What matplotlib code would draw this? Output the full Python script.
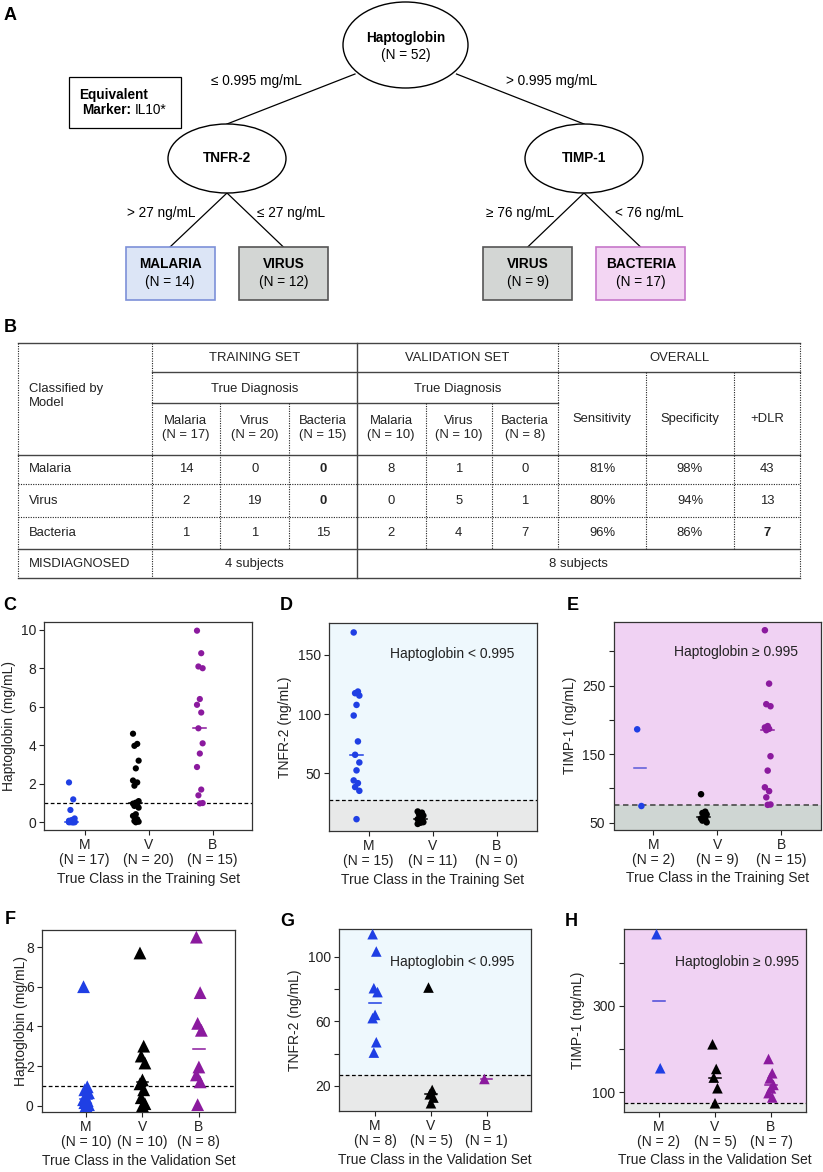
import numpy as np
import matplotlib
matplotlib.use("Agg")
import matplotlib.pyplot as plt
from matplotlib.patches import Ellipse, Rectangle

plt.rcParams['font.family'] = ['Liberation Sans', 'DejaVu Sans']

# ---------------- data ----------------
# Panel A tree
root_name, root_n = "Haptoglobin", "(N = 52)"
left_node, right_node = "TNFR-2", "TIMP-1"
split_labels = ["\u2264 0.995 mg/mL", "> 0.995 mg/mL",
                "> 27 ng/mL", "\u2264 27 ng/mL", "\u2265 76 ng/mL", "< 76 ng/mL"]
leaf_names = ["MALARIA", "VIRUS", "VIRUS", "BACTERIA"]
leaf_counts = ["(N = 14)", "(N = 12)", "(N = 9)", "(N = 17)"]

# Panel B table
group_headers = ["TRAINING SET", "VALIDATION SET", "OVERALL"]
col_headers = ["Malaria\n(N = 17)", "Virus\n(N = 20)", "Bacteria\n(N = 15)",
               "Malaria\n(N = 10)", "Virus\n(N = 10)", "Bacteria\n(N = 8)",
               "Sensitivity", "Specificity", "+DLR"]
row_labels = ["Malaria", "Virus", "Bacteria"]
training = [[14, 0, 0], [2, 19, 0], [1, 1, 15]]
validation = [[8, 1, 0], [0, 5, 1], [2, 4, 7]]
sensitivity = ["81%", "80%", "96%"]
specificity = ["98%", "94%", "86%"]
dlr = ["43", "13", "7"]
misdiag = ["4 subjects", "8 subjects"]

classes = ["M", "V", "B"]

# Panel C: haptoglobin, training
C_M = [2.07, 1.19, 0.64, 0.2, 0.12, 0.08, 0.05, 0.04, 0.03, 0.02, 0.02, 0.01, 0.01, 0.0, 0.0, 0.0, 0.0]
C_V = [4.6, 4.07, 3.97, 3.2, 2.8, 2.17, 2.07, 1.9, 1.1, 1.02, 0.97, 0.9, 0.85, 0.76, 0.42, 0.33, 0.16, 0.07, 0.03, 0.0]
C_B = [9.95, 8.78, 8.09, 8.0, 6.4, 6.1, 5.7, 4.88, 4.1, 3.57, 2.87, 1.7, 1.4, 1.0, 0.98]
C_N = [17, 20, 15]
# Panel D: TNFR-2, training
D_M = [169, 119, 117.6, 115.6, 107.7, 98.7, 76.8, 65.5, 59, 52.3, 43.8, 41.5, 38.2, 35, 11]
D_V = [17.5, 16.5, 15, 14, 13, 11, 10.5, 9.5, 8.5, 8, 7]
D_B = []
D_N = [15, 11, 0]
# Panel E: TIMP-1, training
E_M = [186.3, 74.3]
E_V = [91.5, 66, 64, 62, 58, 56, 55, 53, 50.5]
E_B = [331, 253, 223, 220, 191, 189, 187, 185, 147, 126, 101.6, 96, 87, 76.5, 76]
E_N = [2, 9, 15]
# Panel F: haptoglobin, validation
F_M = [6.0, 0.95, 0.8, 0.65, 0.4, 0.3, 0.25, 0.15, 0.05, 0.0]
F_V = [7.7, 3.0, 2.5, 2.15, 1.3, 1.1, 0.8, 0.4, 0.1, 0.0]
F_B = [8.5, 5.7, 4.15, 3.8, 1.95, 1.55, 1.2, 0.05]
F_N = [10, 10, 8]
# Panel G: TNFR-2, validation
G_M = [113.8, 103.1, 80.4, 78, 63.9, 61.9, 47, 40.6]
G_V = [80.8, 17.5, 14.8, 12.8, 9.3]
G_B = [24.3]
G_N = [8, 5, 1]
# Panel H: TIMP-1, validation
H_M = [466, 155.6]
H_V = [211, 154, 134, 109.3, 74.5]
H_B = [177, 144, 132, 117, 109, 98, 88]
H_N = [2, 5, 7]

hapto_cut, tnfr_cut, timp_cut = 0.995, 27, 76

# ---------------- style ----------------
BLUE, BLACK, PURPLE = "#1f3fe4", "#000000", "#8b1a9e"
W, H = 823, 1172
fig = plt.figure(figsize=(W / 100, H / 100), dpi=100)
ov = fig.add_axes([0, 0, 1, 1])
ov.set_xlim(0, W)
ov.set_ylim(H, 0)
ov.axis('off')

TF = 9.8
# ---------------- Panel A ----------------
def ell(cx, cy, w, h):
    ov.add_patch(Ellipse((cx, cy), w, h, fc='white', ec='black', lw=1.0, zorder=3))

def seg(x0, y0, x1, y1):
    ov.plot([x0, x1], [y0, y1], color='black', lw=0.9, zorder=2)

ell(405.5, 45, 125, 86)
ov.text(405.5, 38, root_name, ha='center', va='center', fontsize=TF, fontweight='bold', zorder=4)
ov.text(405.5, 55.5, root_n, ha='center', va='center', fontsize=TF, zorder=4)
ell(227, 158.5, 118, 69)
ell(584, 158.5, 118, 69)
ov.text(227, 158, left_node, ha='center', va='center', fontsize=TF, fontweight='bold', zorder=4)
ov.text(584, 158, right_node, ha='center', va='center', fontsize=TF, fontweight='bold', zorder=4)
seg(355, 74, 227, 124)
seg(456.5, 74, 584, 124)
seg(227, 193, 170, 247)
seg(227, 193, 283.4, 247)
seg(584, 193, 527.7, 247)
seg(584, 193, 640.6, 247)

leaf_x = [125.6, 239, 483.4, 596.3]
leaf_fc = ["#dce5f6", "#d3d6d4", "#d3d6d4", "#f3d6f3"]
leaf_ec = ["#7d90d8", "#555555", "#555555", "#c676c9"]
for lx, nm, cnt, fc, ec in zip(leaf_x, leaf_names, leaf_counts, leaf_fc, leaf_ec):
    ov.add_patch(Rectangle((lx, 247), 89, 53, fc=fc, ec=ec, lw=1.2, zorder=3))
    ov.text(lx + 44.5, 264.5, nm, ha='center', va='center', fontsize=TF, fontweight='bold', zorder=4)
    ov.text(lx + 44.5, 282, cnt, ha='center', va='center', fontsize=TF, zorder=4)

lab_pos = [(256, 81), (551.5, 81), (161, 213), (291.3, 213), (519.8, 213), (649, 213)]
for (x, y), t in zip(lab_pos, split_labels):
    ov.text(x, y, t, ha='center', va='center', fontsize=TF)

ov.add_patch(Rectangle((68.6, 76.7), 112.4, 51.6, fc='white', ec='black', lw=0.9))
ov.text(79, 94.5, "Equivalent", ha='left', va='center', fontsize=TF, fontweight='bold')
ov.text(82, 110.5, "Marker:", ha='left', va='center', fontsize=TF, fontweight='bold')
ov.text(135, 110.5, "IL10*", ha='left', va='center', fontsize=TF)

# ---------------- Panel B ----------------
xs = [18.3, 151.7, 220, 289.3, 356.7, 425.7, 491.7, 558.3, 646, 734, 800]
ys = [342.7, 372.3, 402.7, 455, 484, 517, 549, 577.5]
SOL = dict(color='#444444', lw=1.0)
DOT = dict(color='#222222', lw=0.8, linestyle=(0, (1, 1.2)))

def hl(y, x0, x1, st):
    ov.plot([x0, x1], [y, y], **st)

def vl(x, y0, y1, st):
    ov.plot([x, x], [y0, y1], **st)

hl(ys[0], xs[0], xs[-1], SOL)
hl(ys[1], xs[1], xs[-1], SOL)
hl(ys[2], xs[1], xs[7], SOL)
hl(ys[3], xs[0], xs[-1], SOL)
hl(ys[4], xs[0], xs[-1], DOT)
hl(ys[5], xs[0], xs[-1], DOT)
hl(ys[6], xs[0], xs[-1], SOL)
hl(ys[7], xs[0], xs[-1], SOL)
vl(xs[0], ys[0], ys[7], DOT)
vl(xs[1], ys[0], ys[7], DOT)
for xi in [2, 3, 5, 6]:
    vl(xs[xi], ys[2], ys[6], DOT)
vl(xs[4], ys[0], ys[7], SOL)
vl(xs[7], ys[0], ys[6], DOT)
vl(xs[8], ys[1], ys[6], DOT)
vl(xs[9], ys[1], ys[6], DOT)
vl(xs[10], ys[0], ys[7], DOT)

BF = 9.4
TC = '#222222'
gcent = [(xs[1] + xs[4]) / 2, (xs[4] + xs[7]) / 2, (xs[7] + xs[10]) / 2]
for gx, t in zip(gcent, group_headers):
    ov.text(gx, 358, t, ha='center', va='center', fontsize=BF, color=TC)
for gx in gcent[:2]:
    ov.text(gx, 389, "True Diagnosis", ha='center', va='center', fontsize=BF, color=TC)
ov.text(29, 396, "Classified by\nModel", ha='left', va='center', fontsize=BF, color=TC, linespacing=1.25)
ccent = [(xs[i] + xs[i + 1]) / 2 for i in range(1, 10)]
for cx, t in zip(ccent, col_headers):
    ov.text(cx, 428 if "\n" in t else 419, t, ha='center', va='center', fontsize=BF,
            color=TC, linespacing=1.25)
row_y = [469.5, 500.5, 533.5]
for r in range(3):
    ov.text(29, row_y[r], row_labels[r], ha='left', va='center', fontsize=BF, color=TC)
    cells = [str(v) for v in training[r]] + [str(v) for v in validation[r]] + \
            [sensitivity[r], specificity[r], dlr[r]]
    for c, (cx, t) in enumerate(zip(ccent, cells)):
        bold = (c == 2 and r in (0, 1)) or (c == 8 and r == 2)
        ov.text(cx, row_y[r], t, ha='center', va='center', fontsize=BF, color=TC,
                fontweight='bold' if bold else 'normal')
ov.text(29, 564, "MISDIAGNOSED", ha='left', va='center', fontsize=BF, color=TC)
ov.text(gcent[0], 564, misdiag[0], ha='center', va='center', fontsize=BF, color=TC)
ov.text((xs[4] + xs[10]) / 2, 564, misdiag[1], ha='center', va='center', fontsize=BF, color=TC)

# panel letters
for letter, (x, y) in zip("ABCDEFGH", [(10, 15), (10, 327), (9.5, 605), (286.5, 605),
                                        (572.5, 605), (10, 920), (287, 921), (571, 921)]):
    ov.text(x, y, letter, ha='center', va='center', fontsize=13, fontweight='bold')

# ---------------- Panels C-H ----------------
def mkax(l, r, t, b):
    return fig.add_axes([l / W, 1 - b / H, (r - l) / W, (b - t) / H])

def jitter(n):
    return np.array([((k * 3) % 5 - 2) for k in range(n)]) * 0.022

def strip(ax, groups, Ns, xlabel, ylabel, ylim, xlim, marker, s, shift,
          yticks, ylabels, ylab_x, bands=None, note=None, note_xy=None, cut=None,
          cut_style=None, medcols=None):
    cols = [BLUE, BLACK, PURPLE]
    if medcols is None:
        medcols = cols
    ax.set_ylim(*ylim)
    ax.set_xlim(*xlim)
    if bands is not None:
        below, above = bands
        ax.set_facecolor(above)
        ax.axhspan(ylim[0], cut, color=below, zorder=0, lw=0)
    for i, (vals, c) in enumerate(zip(groups, cols)):
        vals = np.asarray(vals, dtype=float)
        x0 = i + 1 + shift
        if len(vals) == 0:
            continue
        ax.scatter(x0 + jitter(len(vals)), vals, s=s, marker=marker, color=c,
                   edgecolors='none', zorder=3, clip_on=False)
        med = np.median(vals)
        ax.plot([x0 - 0.1, x0 + 0.1], [med, med], color=medcols[i], lw=1.1, zorder=4)
    if cut is not None:
        st = cut_style or dict(color='black', lw=0.9, linestyle=(0, (3, 2)))
        ax.axhline(cut, zorder=2, **st)
    ax.set_xticks([1, 2, 3])
    ax.set_xticklabels([f"{c}\n(N = {n})" for c, n in zip(classes, Ns)], linespacing=1.1)
    ax.set_yticks(yticks)
    ax.set_yticklabels(ylabels)
    ax.tick_params(direction='out', length=3.5, width=0.8, pad=2.5, labelsize=10, colors='#222222')
    for sp in ax.spines.values():
        sp.set_color('#333333')
        sp.set_linewidth(0.9)
    ax.set_xlabel(xlabel, fontsize=10, labelpad=3, color='#222222')
    ax.set_ylabel(ylabel, fontsize=10, color='#222222')
    ax.yaxis.set_label_coords(ylab_x, 0.5)
    if note:
        ax.text(note_xy[0], note_xy[1], note, transform=ax.transAxes, ha='center',
                va='center', fontsize=10, color='#222222')

LB, PK = "#eef8fd", "#f0d2f3"
GR1, GR2 = "#e8e9e9", "#cfd6d3"
TRN, VAL = "True Class in the Training Set", "True Class in the Validation Set"

axC = mkax(44.3, 252.3, 622, 830)
strip(axC, [C_M, C_V, C_B], C_N, TRN, "Haptoglobin (mg/mL)", (-0.4, 10.4), (0.37, 3.62),
      'o', 20, -0.2, [0, 2, 4, 6, 8, 10], ["0", "2", "4", "6", "8", "10"], -0.138,
      cut=hapto_cut)

axD = mkax(329, 537, 623, 831)
strip(axD, [D_M, D_V, D_B], D_N, TRN, "TNFR-2 (ng/mL)", (1, 177), (0.38, 3.63),
      'o', 22, -0.19, [50, 100, 150], ["50", "100", "150"], -0.18, bands=(GR1, LB),
      note="Haptoglobin < 0.995", note_xy=(0.59, 0.85), cut=tnfr_cut)

axE = mkax(613.5, 821, 622, 829.5)
strip(axE, [E_M, E_V, E_B], E_N, TRN, "TIMP-1 (ng/mL)", (40, 343), (0.375, 3.625),
      'o', 22, -0.21, [50, 100, 150, 200, 250, 300], ["50", "", "150", "", "250", ""], -0.178,
      bands=(GR2, PK), note="Haptoglobin \u2265 0.995", note_xy=(0.59, 0.855), cut=timp_cut,
      cut_style=dict(color='#555555', lw=1.3, linestyle=(0, (3, 2))),
      medcols=["#5a5ad8", BLACK, PURPLE])

axF = mkax(42, 235, 930, 1112)
strip(axF, [F_M, F_V, F_B], F_N, VAL, "Haptoglobin (mg/mL)", (-0.32, 8.86), (0.22, 3.64),
      '^', 85, 0.0, [0, 2, 4, 6, 8], ["0", "2", "4", "6", "8"], -0.072, cut=hapto_cut)

axG = mkax(339.3, 531, 929, 1111)
strip(axG, [G_M, G_V, G_B], G_N, VAL, "TNFR-2 (ng/mL)", (4.5, 117), (0.36, 3.79),
      '^', 58, 0.0, [20, 40, 60, 80, 100], ["20", "", "60", "", "100"], -0.197, bands=(GR1, LB),
      note="Haptoglobin < 0.995", note_xy=(0.59, 0.817), cut=tnfr_cut)

axH = mkax(623.7, 806, 929, 1111.7)
strip(axH, [H_M, H_V, H_B], H_N, VAL, "TIMP-1 (ng/mL)", (55, 478), (0.37, 3.625),
      '^', 58, 0.0, [100, 200, 300, 400], ["100", "", "300", ""], -0.213, bands=(GR1, PK),
      note="Haptoglobin \u2265 0.995", note_xy=(0.62, 0.818), cut=timp_cut,
      medcols=["#4a4ad8", BLACK, PURPLE])

fig.savefig("out.png", dpi=100)
